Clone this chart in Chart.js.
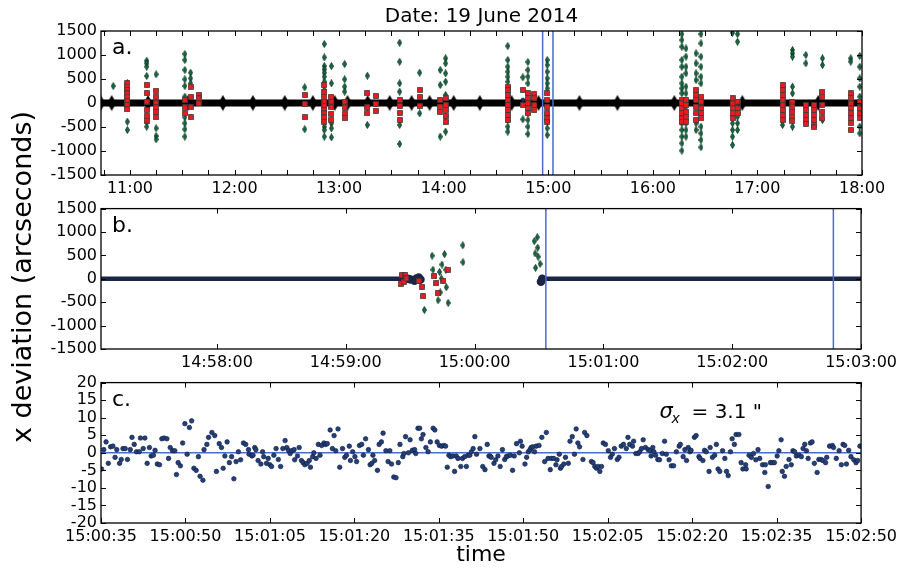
<!DOCTYPE html>
<html>
<head>
<meta charset="utf-8">
<script src="https://cdn.jsdelivr.net/npm/chart.js@4.4.0/dist/chart.umd.min.js"></script>
<style>
body { margin: 0; background: #fff; width: 901px; height: 571px; position: relative; overflow: hidden; font-family: "DejaVu Sans", sans-serif; }
canvas { position: absolute; left: 0; }
#ylab { position: absolute; left: -178px; top: 262px; width: 400px; line-height: 30px; text-align: center; font-size: 27px; transform: rotate(-90deg); }
</style>
</head>
<body>
<canvas id="ca" width="901" height="200" style="top:0"></canvas>
<canvas id="cb" width="901" height="180" style="top:195px"></canvas>
<canvas id="cc" width="901" height="202" style="top:369px"></canvas>
<div id="ylab">x deviation (arcseconds)</div>
<script>
// ---- panel a: whole day, time in hours ----
var aHours = [11, 12, 13, 14, 15, 16, 17, 18];
var aHourLabels = ['11:00', '12:00', '13:00', '14:00', '15:00', '16:00', '17:00', '18:00'];
var aYTicks = [-1500, -1000, -500, 0, 500, 1000, 1500];
var aCuts = [14.946, 15.045];
var aBig = [10.72, 10.825, 11.172, 11.554, 11.888, 12.175, 12.48, 12.748, 12.958, 13.08, 13.273, 13.483,
  13.693, 13.865, 14.095, 14.345, 14.649, 14.906, 15.298, 15.661, 16.205, 16.855, 17.581];
var aGreen = [
  [10.84, [354]],
  [10.975, [410, -389, -562]],
  [11.16, [881, 826, 756, 562, -389, -493]],
  [11.25, [597, -527, -687, -757]],
  [11.525, [1020, 895, 687, 493, 354, 132, -298, -423, -548, -700]],
  [11.58, [632, 514, 410]],
  [12.671, [326, -548]],
  [12.858, [1228, 950, 770, 701, 632, 548, 444, 271, -354, -493, -562, -700]],
  [12.926, [770, 410, -423, -527, -715]],
  [13.053, [812, 493, 340, 236]],
  [13.27, [569, -458]],
  [13.579, [1256, 860, 410, 236, -458, -854]],
  [13.77, [632, -215]],
  [13.967, [687, 375, -700]],
  [14.018, [930, 826, 618, 444, 167, -284, -597]],
  [14.613, [1187, 895, 756, 652, 548, 444, -354, -493, -597]],
  [14.757, [534, -340]],
  [14.805, [853, 687, 548, 410, -215, -354, -493, -645]],
  [14.99, [895, 791, 652, 514, 410, 305, -250, -389, -527, -666]],
  [16.277, [1437, 1312, 1173, 895, 756, 548, 410, 305, 201, -284, -423, -562, -700, -840, -992]],
  [16.317, [1138, 965, 756, 618, 340, 201, -146, -284, -423, -562, -700]],
  [16.413, [1034, 826, 618, 479, -423, -562]],
  [16.46, [1437, 1242, 965, 756, 548, 410, -493, -632, -770, -923]],
  [16.762, [1465, -284, -423, -562, -700, -875]],
  [16.81, [1437, 1277, -284, -423, -562]],
  [17.24, [-458]],
  [17.335, [1104, 1034, 965, 340, 201, -493]],
  [17.463, [1000, 826]],
  [17.622, [930, 791, -354]],
  [17.893, [930, 861]],
  [17.979, [980, 756, 514, 340, 132, -215, -493, -632]]
];
var aRed = [
  [10.975, [409, 340, 271, 201, 132, 49, -42, -132]],
  [11.16, [375, 201, 28, -146, -271, -368]],
  [11.25, [257, 132, 7, -90, -180, -298]],
  [11.525, [62, -90, -215]],
  [11.58, [340, 132, -90, -298]],
  [11.656, [167, 97, -7]],
  [12.671, [167, -21, -298]],
  [12.858, [375, 236, 132, 28, -62, -146, -215, -298, -389]],
  [12.926, [132, 28, -90, -229, -354]],
  [13.053, [28, -90, -215, -319]],
  [13.27, [201, -90, -215]],
  [13.35, [146, -21, -160]],
  [13.579, [62, -62, -201, -354]],
  [13.77, [271, 132, -62]],
  [13.967, [62, -76, -180]],
  [14.018, [97, -42, -146, -271, -389]],
  [14.613, [340, 271, 167, 62, -42, -146, -250, -354]],
  [14.757, [271, -42]],
  [14.805, [201, 97, -7, -111, -215]],
  [14.868, [187, 97, -42, -146]],
  [14.99, [201, 62, -76, -215, -319, -389]],
  [16.277, [62, -7, -111, -215, -319, -389]],
  [16.317, [62, -42, -180, -284, -389]],
  [16.413, [271, 167, 62, -76, -215, -354]],
  [16.46, [132, 28, -111, -215, -319]],
  [16.762, [97, -7, -111, -215, -319]],
  [16.81, [28, -111, -215]],
  [17.24, [375, 271, 167, 62, -42, -146, -250, -354]],
  [17.335, [28, -76, -180, -284, -368]],
  [17.463, [-42, -146, -250, -354, -437]],
  [17.543, [-42, -146, -250, -354, -458, -507]],
  [17.622, [236, 132, -42, -180, -319]],
  [17.893, [201, 97, -7, -111, -215, -319, -423, -562]],
  [17.979, [28, -111, -215, -319]]
];
var aBlueT = [14.757, 16.44];
var aBlueV = [62, 50];

// ---- panel b: seconds after 15:00:00 ----
var bTicks = [-120, -60, 0, 60, 120, 180];
var bLabels = ['14:58:00', '14:59:00', '15:00:00', '15:01:00', '15:02:00', '15:03:00'];
var bCuts = [33.2, 167.1];
var bBandT = [-174, -31, -29.8, -28, -27.1, -26, -25.2, 0, 30.9, 31.5, 180];
var bBandV = [0, 0, -14, -42, 7, 28, -14, null, -62, 0, 0];
var bRedT = [-34.5, -33.7, -33.0, -32.2, -31.8, -26, -24.5, -24, -18.8, -17.8, -17.2, -14.5, -12.6];
var bRedV = [-111, 76, -62, 76, 7, -42, -167, -375, 56, -97, -305, -42, 194];
var bGreenT = [-23.4, -19.8, -19.4, -17, -16.3, -16, -15.5, -15.2, -14, -13.4, -13.2, -12.3, -5.5, -5.4,
  27.8, 28.2, 28.4, 29.2, 29.4, 29.6, 30.5];
var bGreenV = [-666, 493, 194, -458, 146, -291, 7, 305, 527, 194, -180, -514, 715, 354,
  805, 541, 236, 888, 666, 472, 319];

// ---- panel c: seconds after 15:00:00 ----
var cTicks = [35, 50, 65, 80, 95, 110, 125, 140, 155, 170];
var cLabels = ['15:00:35', '15:00:50', '15:01:05', '15:01:20', '15:01:35', '15:01:50', '15:02:05', '15:02:20', '15:02:35', '15:02:50'];
var cYTicks = [-20, -15, -10, -5, 0, 5, 10, 15, 20];
var cSigma = 3.1;
var cTime = [35.1, 35.5, 35.9, 36.3, 36.7, 37.1, 37.5, 37.8, 38.3, 38.6, 38.9, 39.3, 39.7, 40.2, 40.5, 40.9, 41.3, 41.8, 42.0, 42.5,
  42.8, 43.2, 43.6, 43.9, 44.3, 44.6, 45.0, 45.4, 45.8, 46.2, 46.7, 47.0, 47.3, 47.7, 48.1, 48.4, 48.7, 49.1, 49.5, 49.9,
  50.3, 50.7, 51.1, 51.5, 51.9, 52.3, 52.6, 53.1, 53.3, 53.8, 54.1, 54.7, 55.2, 55.5, 56.0, 56.4, 56.7, 57.0, 57.4, 57.8,
  58.2, 58.6, 59.0, 59.4, 59.8, 60.3, 60.7, 61.2, 61.3, 61.8, 62.0, 62.3, 62.5, 62.9, 63.4, 63.7, 63.9, 64.4, 64.7, 65.0,
  65.3, 65.7, 66.1, 66.5, 66.9, 67.3, 67.7, 68.0, 68.3, 68.6, 68.9, 69.3, 69.4, 69.9, 70.2, 70.6, 70.9, 71.2, 71.6, 72.0,
  72.2, 72.6, 72.8, 73.2, 73.6, 73.9, 74.2, 74.6, 74.9, 75.2, 75.7, 76.1, 76.4, 76.7, 77.1, 77.4, 77.9, 78.3, 78.6, 79.1,
  79.3, 79.7, 80.1, 80.4, 80.9, 81.3, 81.6, 82.0, 82.5, 82.8, 83.1, 83.3, 83.6, 84.1, 84.4, 84.8, 85.1, 85.6, 86.0, 86.3,
  86.6, 87.0, 87.4, 87.8, 88.1, 88.6, 88.8, 89.1, 89.6, 89.9, 90.3, 90.7, 90.9, 91.3, 91.6, 91.9, 92.2, 92.7, 93.1, 93.5,
  94.0, 94.3, 94.7, 95.1, 95.5, 95.9, 96.2, 96.5, 96.8, 97.1, 97.5, 97.8, 98.1, 98.4, 98.9, 99.2, 99.6, 99.9, 100.2, 100.5,
  100.8, 101.1, 101.4, 101.7, 102.3, 102.8, 103.2, 103.6, 103.9,
  104.1, 104.3, 104.8, 105.1, 105.5, 105.9, 106.3, 106.7, 107.0, 107.3, 107.7, 108.1, 108.4, 108.8, 109.3, 109.5, 109.8, 110.3, 110.6, 110.9,
  111.2, 111.4, 111.7, 112.0, 112.3, 112.8, 113.3, 113.8, 114.1, 114.4, 114.8, 115.0, 115.4, 115.8, 116.0, 116.4, 116.6, 116.8, 117.2, 117.5,
  118.0, 118.3, 118.7, 119.1, 119.4, 119.7, 120.0, 120.6, 120.9, 121.3, 122.1, 122.4, 122.7, 123.0, 123.3, 123.6, 123.9, 124.2, 124.6, 125.1,
  125.5, 125.8, 126.2, 126.7, 127.0, 127.4, 127.8, 128.3, 128.6, 128.9, 129.4, 129.6, 130.0, 130.4, 130.7, 131.0, 131.3, 131.7, 132.2, 132.5,
  132.7, 133.0, 133.2, 133.5, 133.9, 134.2, 134.7, 135.1, 135.4, 135.9, 136.3, 136.7, 137.2, 137.7, 137.9, 138.4, 138.7, 139.0, 139.3, 139.6,
  139.8, 140.4, 140.7, 141.2, 141.4, 141.9, 142.2, 142.5, 143.0, 143.2, 143.6, 144.0, 144.3, 144.6, 144.9, 145.4, 145.8, 146.1, 146.4, 146.8,
  147.1, 147.5, 147.8, 148.3, 148.7, 149.0, 149.5, 149.6, 150.1, 150.5, 150.9, 151.3, 151.7, 152.0, 152.5, 152.9, 153.0, 153.5, 153.9, 154.2,
  154.6, 155.1, 155.4, 155.8, 156.0, 156.4, 156.7, 157.2, 157.6, 157.9, 158.2, 158.5, 159.0, 159.4, 159.7, 160.0, 160.3, 160.6, 161.0, 161.3,
  161.7, 162.2, 162.5, 162.9, 163.2, 163.7, 163.9, 164.4, 164.9, 165.1, 165.6, 166.1, 166.5, 166.8, 167.1, 167.4, 167.8, 168.2, 168.7, 169.1,
  169.4, 169.8];
var cDev = [-4.6, 0.9, 3.1, -3.0, 1.7, 1.9, -1.3, 0.9, -3.0, -1.9, 1.2, 1.2, -1.9, 0.9, 4.4, 2.4, 0.3, 0.3, 4.2, 1.2,
  4.2, -3.0, 1.5, -0.9, -0.7, 0.7, -3.2, -3.4, 4.0, 4.2, 4.0, -1.6, 1.5, 0.6, 0.6, -6.2, -2.8, -3.7, 2.8, 8.3,
  -0.4, 7.2, 9.1, -4.4, -5.0, -1.1, -6.7, -7.8, 0.9, 2.4, 4.4, 5.8, 4.9, -5.3, 2.6, 1.5, -4.4, -0.9, 3.1, -2.8,
  -1.1, -7.4, -2.5, 0.3, -2.0, 2.8, 2.4, 0.9, -0.4, -0.9, -0.7, 1.5, 0.9, -2.2, -3.2, 0.3, -1.1, -3.0, -1.6, -3.4,
  -3.9, -0.7, 1.2, -1.9, -3.9, 1.2, 3.5, 1.5, 0.7, -0.2, 0.6, 0.9, -2.0, -0.9, 1.5, -2.2, -2.8, -3.4, -3.0, -2.2,
  -4.1, -1.1, 0.0, -1.6, 2.4, -0.7, 2.1, 2.8, 2.4, 2.6, 6.5, 1.2, 4.9, 0.6, 6.8, -4.1, 1.2, -1.3, -0.7, 1.9,
  -2.2, 0.3, -1.1, -2.5, 2.1, 2.4, -0.7, 4.0, 0.9, -3.4, -3.0, -0.7, -2.2, -5.0, 2.4, 3.1, 5.6, 0.6, -2.5, 0.6,
  -3.2, -6.9, -7.1, -2.8, 2.4, -1.1, -0.2, 4.6, 0.0, 3.7, 0.7, 0.9, -0.2, 7.0, 7.0, 4.0, 5.2, 1.5, 0.3, 3.1,
  7.0, 6.5, 3.1, 2.1, 1.9, 2.1, 1.9, -4.1, -0.7, -1.1, -0.9, -5.3, -0.9, -1.6, -3.9, -1.6, -1.1, -3.9, -0.7, -0.7,
  0.3, 1.2, 4.6, -0.4, 1.2, -3.9, -4.8, 2.4, -0.9,
  -0.9, -1.3, -3.0, -2.0, -0.9, -3.9, 0.9, -1.9, -1.1, -0.9, -0.7, -5.0, -0.9, 2.6, 0.0, 3.3, 1.9, -3.2, -1.3, 0.3,
  0.9, 1.5, 1.7, 0.3, 1.9, 2.1, 4.4, -2.5, 5.8, -1.6, -4.8, -1.6, -1.6, -3.4, -2.0, -0.4, -4.4, -3.9, -3.2, -1.3,
  -3.0, 3.3, 4.6, -0.4, 6.8, 2.8, 1.7, -1.9, 5.8, 4.9, -2.5, -2.8, -3.9, -4.4, -3.9, -5.3, -3.9, 2.8, 2.4, 0.6,
  -1.3, -0.4, 1.2, -1.9, -1.3, 1.9, 2.4, 1.2, 4.4, 2.4, 1.9, 3.3, -0.2, -0.2, 0.3, 1.2, 3.7, 1.5, 0.9, 0.6,
  -0.9, 1.5, 0.3, -0.7, -1.9, -2.0, -0.2, 3.3, -0.4, -2.0, -3.7, -3.7, 0.3, 1.9, 2.4, -1.1, 0.9, -2.2, 1.5, 0.3,
  0.7, 4.4, 4.9, -1.1, -1.6, -2.2, 0.7, 0.3, -5.3, 1.5, -1.3, -0.7, 2.4, -4.6, -5.3, 0.6, -1.6, -5.3, -6.5, 0.3,
  4.0, 2.4, 5.2, 5.2, -2.8, -4.6, -3.4, -4.6, -0.7, -1.3, -0.2, -2.0, 0.9, -1.6, -3.4, -5.6, -3.4, -9.6, -2.8, -2.8,
  -2.8, -0.9, 0.6, 3.7, -5.3, -6.7, -3.9, -1.9, -3.4, 0.6, 0.3, -0.9, -0.7, -1.1, 1.2, 2.4, 0.6, -1.6, 2.8, 3.1,
  -3.0, -5.6, -1.9, -1.9, -2.2, -2.8, -1.3, 1.9, 2.1, 1.5, -1.6, 0.6, -3.4, 2.4, 2.1, -3.2, 0.7, -1.1, -2.0, -2.8,
  -2.2, 1.9];

var blue = '#4a6cd0';
Chart.defaults.font.family = '"DejaVu Sans", sans-serif';
Chart.defaults.font.size = 16;
Chart.defaults.color = '#000';

// marker images
function marker(w, h, kind, fill, stroke) {
  var c = document.createElement('canvas');
  c.width = w; c.height = h;
  var g = c.getContext('2d');
  g.fillStyle = fill;
  g.beginPath();
  if (kind === 'diamond') {
    g.moveTo(w / 2, 0.5); g.lineTo(w - 0.5, h / 2); g.lineTo(w / 2, h - 0.5); g.lineTo(0.5, h / 2); g.closePath();
  } else {
    g.rect(0.5, 0.5, w - 1, h - 1);
  }
  g.fill();
  if (stroke) { g.strokeStyle = stroke; g.lineWidth = 0.8; g.stroke(); }
  return c;
}
var greenD = marker(5, 8, 'diamond', '#137040', '#08261a');
var redS = marker(6, 6, 'square', '#f0181f', '#3a3a3a');
var bigD = marker(10, 17, 'diamond', '#000', null);

function pairs(ts, vs) {
  return ts.map(function (t, i) { return {x: t, y: vs[i]}; });
}
function clusters(list) {
  var out = [];
  list.forEach(function (c) { c[1].forEach(function (v) { out.push({x: c[0], y: v}); }); });
  return out;
}
function vline(t, lo, hi) {
  return {data: [{x: t, y: lo}, {x: t, y: hi}], showLine: true, borderColor: blue, borderWidth: 1.5, pointRadius: 0};
}

var frame = {
  id: 'frame',
  afterDatasetsDraw: function (chart, args, opt) {
    var ctx = chart.ctx, a = chart.chartArea, xs = chart.scales.x, ys = chart.scales.y;
    ctx.save();
    ctx.strokeStyle = '#000';
    ctx.lineWidth = 1;
    ctx.beginPath();
    xs.ticks.forEach(function (t) {
      var p = Math.round(xs.getPixelForValue(t.value)) + 0.5;
      ctx.moveTo(p, a.bottom); ctx.lineTo(p, a.bottom - 5);
      ctx.moveTo(p, a.top); ctx.lineTo(p, a.top + 5);
    });
    ys.ticks.forEach(function (t) {
      var p = Math.round(ys.getPixelForValue(t.value)) + 0.5;
      ctx.moveTo(a.left, p); ctx.lineTo(a.left + 5, p);
      ctx.moveTo(a.right, p); ctx.lineTo(a.right - 5, p);
    });
    ctx.stroke();
    ctx.lineWidth = 1.3;
    ctx.strokeRect(a.left, a.top, a.right - a.left, a.bottom - a.top);
    ctx.fillStyle = '#000';
    ctx.font = '22px "DejaVu Sans"';
    ctx.textBaseline = 'alphabetic';
    ctx.fillText(opt.label, a.left + 11, a.top + 23);
    if (opt.title) {
      ctx.font = '20px "DejaVu Sans"';
      ctx.textAlign = 'center';
      ctx.textBaseline = 'middle';
      ctx.fillText(opt.title, (a.left + a.right) / 2, a.top - 14);
      ctx.textAlign = 'left';
    }
    if (opt.sigma) {
      var X = xs.getPixelForValue(opt.sigma.x), Y = ys.getPixelForValue(opt.sigma.y);
      ctx.textBaseline = 'middle';
      ctx.font = 'italic 21px "DejaVu Sans"';
      ctx.fillText('\u03c3', X, Y);
      ctx.font = 'italic 14px "DejaVu Sans"';
      ctx.fillText('x', X + 12, Y + 7);
      ctx.font = '20px "DejaVu Sans"';
      ctx.fillText('= ' + opt.sigma.value + ' "', X + 32, Y);
    }
    ctx.restore();
  }
};

function panel(id, o) {
  return new Chart(document.getElementById(id), {
    type: 'scatter',
    data: {datasets: o.datasets},
    options: {
      responsive: false,
      animation: false,
      events: [],
      layout: {padding: {top: o.padTop, right: 39, left: 0, bottom: 0}},
      plugins: {
        legend: {display: false},
        tooltip: {enabled: false},
        frame: {label: o.label, sigma: o.sigma, title: o.title}
      },
      scales: {
        x: {
          type: 'linear', min: o.xMin, max: o.xMax,
          grid: {display: false, drawTicks: false}, border: {display: false},
          ticks: {
            autoSkip: false, maxRotation: 0, minRotation: 0, padding: 4,
            callback: function (v) {
              var k = o.xTicks.findIndex(function (t) { return Math.abs(t - v) < 1e-6; });
              return k < 0 ? '' : o.xLabels[k];
            }
          },
          afterBuildTicks: function (s) { s.ticks = o.xMinor.map(function (v) { return {value: v}; }); },
          afterFit: function (s) { s.height = o.xH; },
          title: o.xTitle ? {display: true, text: o.xTitle, color: '#000', font: {size: 22}, padding: {top: 0, bottom: 3}} : {display: false}
        },
        y: {
          type: 'linear', min: o.yTicks[0], max: o.yTicks[o.yTicks.length - 1],
          grid: {display: false, drawTicks: false}, border: {display: false},
          ticks: {autoSkip: false, padding: 4, callback: function (v) { return String(v); }},
          afterBuildTicks: function (s) { s.ticks = o.yTicks.map(function (v) { return {value: v}; }); },
          afterFit: function (s) { s.width = 101; }
        }
      }
    },
    plugins: [frame]
  });
}

// panel a
var aMinor = [];
for (var q = 43; q <= 72; q++) aMinor.push(q / 4);
panel('ca', {
  title: 'Date: 19 June 2014', label: 'a.', padTop: 31, xH: 25,
  xMin: 10.723, xMax: 18, xTicks: aHours, xLabels: aHourLabels, xMinor: aMinor, yTicks: aYTicks,
  datasets: [
    vline(aCuts[0], -1500, 1500),
    vline(aCuts[1], -1500, 1500),
    {data: clusters(aRed), pointStyle: redS, pointRadius: 3},
    {data: clusters(aGreen), pointStyle: greenD, pointRadius: 3},
    {data: pairs(aBlueT, aBlueV), pointRadius: 2, backgroundColor: '#1d2f66', borderColor: '#000', borderWidth: 0.5},
    {data: aBig.map(function (t) { return {x: t, y: 0}; }), pointStyle: bigD, pointRadius: 5},
    {data: [{x: 10.72, y: 0}, {x: 18, y: 0}], showLine: true, borderColor: '#000', borderWidth: 7, pointRadius: 0}
  ]
});

// panel b
panel('cb', {
  label: 'b.', padTop: 10, xH: 26,
  xMin: -174, xMax: 180, xTicks: bTicks, xLabels: bLabels, xMinor: bTicks, yTicks: aYTicks,
  datasets: [
    vline(bCuts[0], -1500, 1500),
    vline(bCuts[1], -1500, 1500),
    {data: pairs(bRedT, bRedV), pointStyle: redS, pointRadius: 3},
    {data: pairs(bGreenT, bGreenV), pointStyle: greenD, pointRadius: 3},
    {data: pairs(bBandT, bBandV), showLine: true, spanGaps: false, borderColor: '#1b2545', borderWidth: 4.5,
      pointRadius: function (c) { return (c.dataIndex === 0 || c.dataIndex === bBandT.length - 1) ? 0 : 2; },
      backgroundColor: '#22356e', borderJoinStyle: 'round'}
  ]
});

// panel c
panel('cc', {
  label: 'c.', padTop: 10, xH: 48, xTitle: 'time',
  xMin: 35, xMax: 170, xTicks: cTicks, xLabels: cLabels, xMinor: cTicks, yTicks: cYTicks,
  sigma: {x: 134.2, y: 11.4, value: cSigma},
  datasets: [
    {data: pairs(cTime, cDev), pointRadius: 2.3, backgroundColor: '#23407c', borderColor: '#0e1a38', borderWidth: 0.6},
    {data: [{x: 35, y: 0}, {x: 170, y: 0}], showLine: true, borderColor: blue, borderWidth: 1.5, pointRadius: 0}
  ]
});
</script>
</body>
</html>
